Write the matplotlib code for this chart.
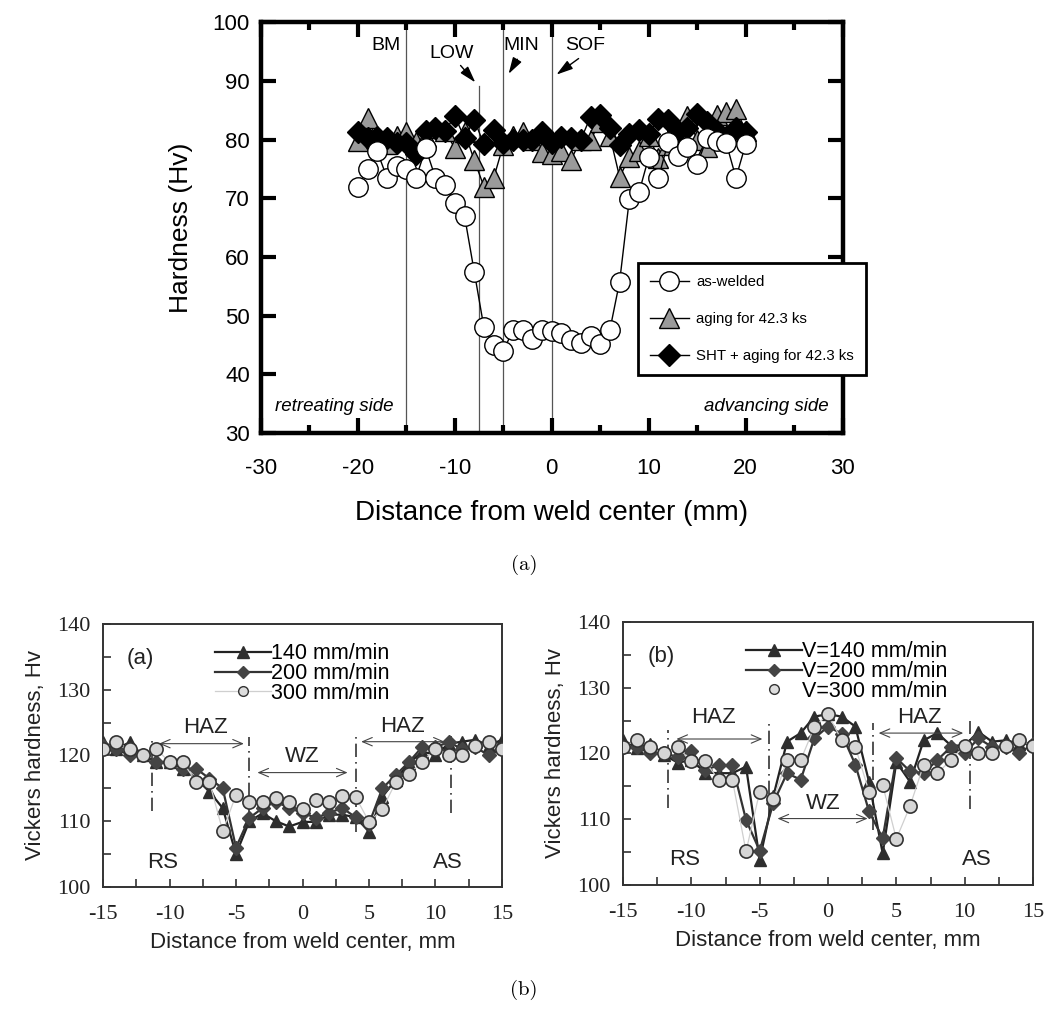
import matplotlib
matplotlib.use("Agg")
import matplotlib.pyplot as plt
from matplotlib.lines import Line2D
import numpy as np

plt.rcParams["axes.unicode_minus"] = False

# ---------------- data: top figure (a) ----------------
x_top = list(range(-20, 21))
as_welded = [72, 75, 78, 73.5, 75.5, 75, 73.5, 78.5, 73.5, 72.3, 69.2, 67, 57.5, 48, 45, 44,
             47.5, 47.5, 46, 47.5, 47.3, 47, 45.8, 45.4, 46.6, 45.1, 47.6, 55.8, 69.8, 71, 77,
             73.4, 79.6, 77.2, 78.8, 75.8, 80.2, 79.8, 79.4, 73.5, 79.2]
aging = [79.8, 83.7, 79.8, 79.3, 80.7, 81.3, 79.6, 80.5, 82, 81.5, 78.5, 81.3, 76.5, 72, 73.4,
         79.1, 80.7, 81.3, 79.9, 77.9, 77.5, 78, 76.6, 80, 80, 83, 80.6, 73.6, 77, 78, 80.6,
         76.8, 79, 80.5, 84, 80, 78.8, 84.2, 84.7, 85.3, 81.5]
sht_aging = [81.3, 80.2, 80.5, 80.2, 79.5, 79.5, 77.5, 81.5, 82, 81.5, 84, 80.3, 83.4, 79.2,
             81.6, 79.5, 80, 80, 80, 81.3, 79.4, 80.5, 80.2, 80, 83.9, 84.2, 82, 79, 81, 81.6,
             81, 83.6, 83.3, 81.5, 82, 84.4, 83, 81.5, 80.5, 81.9, 81.3]
top_labels = ["as-welded", "aging for 42.3 ks", "SHT + aging for 42.3 ks"]
zone_lines = [-15, -7.5, -5, 0]

# ---------------- data: bottom figures ----------------
x_bot = list(range(-15, 16))
a_140 = [122, 121, 122, 120, 119, 119, 118, 116.5, 114.5, 112, 105, 110, 111.2, 110, 109.2,
         109.9, 109.9, 111, 111, 110.6, 108.4, 113.7, 116.3, 118.8, 120.6, 120.1, 121.8,
         122.1, 122.4, 121.5, 122.4]
a_200 = [121.5, 121, 120, 120, 119, 119, 118, 118, 116.5, 115, 106, 110.5, 112, 113, 112,
         111.3, 110.5, 111.3, 112, 110.6, 109.6, 115, 117, 119, 121.3, 121.3, 122, 121,
         121.3, 120, 121]
a_300 = [121, 122, 121, 120, 121, 119, 119, 116, 116, 108.5, 114, 113, 113, 113.6, 113,
         111.8, 113.2, 113, 113.9, 113.7, 109.9, 111.8, 115.9, 117.2, 119, 121, 120, 120,
         121.5, 122, 121]
b_140 = [122.1, 120.8, 121.5, 119.8, 118.6, 119, 117.1, 117, 117, 118, 103.8, 113.5, 121.8,
         123.1, 125.6, 126, 125.6, 124.1, 115.7, 104.8, 118.7, 115.7, 122, 123.1, 121.2,
         121.2, 123.3, 121.8, 122, 121.5, 121.5]
b_200 = [121, 121, 120, 120, 119.5, 120.3, 117.5, 118.2, 118.2, 109.9, 105.2, 112.5, 117,
         116, 122.3, 124.1, 123, 118.3, 111.2, 107.1, 119.3, 117.3, 117, 119, 121, 120,
         122.3, 121, 121, 120, 121.5]
b_300 = [121, 122, 121, 120, 121, 118.8, 118.8, 116, 116, 105.1, 114.2, 113, 119, 119, 124,
         126, 122, 121, 114.2, 115.2, 107, 112, 118.3, 117, 119, 121.2, 120, 120, 121.2, 122,
         121.2]
a_labels = ["140 mm/min", "200 mm/min", "300 mm/min"]
b_labels = ["V=140 mm/min", "V=200 mm/min", "V=300 mm/min"]

SANS = ["Liberation Sans Narrow", "Liberation Sans", "DejaVu Sans"]
SANS2 = ["Liberation Sans", "DejaVu Sans"]
SERIF = ["Liberation Serif", "DejaVu Serif"]

fig = plt.figure(figsize=(10.48, 10.13), dpi=100)

# ================= top panel =================
ax = fig.add_axes([0.249, 0.5726, 0.555, 0.4054])
ax.set_xlim(-30, 30)
ax.set_ylim(30, 100)
for xv in zone_lines:
    top = 89.2 if xv == -7.5 else 100
    ax.plot([xv, xv], [30, top], color="#555555", lw=0.9, zorder=1)

ax.plot(x_top, aging, "-", color="black", lw=1.0, marker="^", ms=14, mfc="#9a9a9a",
        mec="black", mew=1.0, zorder=3)
ax.plot(x_top, sht_aging, "-", color="black", lw=1.0, marker="D", ms=11, mfc="black",
        mec="black", zorder=4)
ax.plot(x_top, as_welded, "-", color="black", lw=1.0, marker="o", ms=14, mfc="white",
        mec="black", mew=1.0, zorder=5)

ax.set_xticks([-30, -20, -10, 0, 10, 20, 30])
ax.set_xticks([-25, -15, -5, 5, 15, 25], minor=True)
ax.set_yticks(range(30, 101, 10))
ax.tick_params(which="both", direction="in", top=True, right=True, width=3)
ax.tick_params(which="major", length=11, labelsize=16)
ax.tick_params(which="minor", length=6)
ax.tick_params(axis="x", pad=18)
ax.tick_params(axis="y", pad=8)
for s in ax.spines.values():
    s.set_linewidth(3.2)
for lab in ax.get_xticklabels() + ax.get_yticklabels():
    lab.set_family(SANS)
ax.set_xlabel("Distance from weld center (mm)", fontsize=20, family=SANS, labelpad=15)
ax.set_ylabel("Hardness (Hv)", fontsize=19, family=SANS, labelpad=14)

ax.text(-17.1, 96.1, "BM", fontsize=14, family=SANS, ha="center", va="center")
ax.text(-10.3, 94.7, "LOW", fontsize=14, family=SANS, ha="center", va="center")
ax.text(-3.2, 96.1, "MIN", fontsize=14, family=SANS, ha="center", va="center")
ax.text(3.4, 96.1, "SOF", fontsize=14, family=SANS, ha="center", va="center")
arrow_kw = dict(arrowstyle="-|>,head_length=1.0,head_width=0.3", color="black", lw=1.0)
ax.annotate("", xy=(-7.7, 89.4), xytext=(-9.6, 93.0), arrowprops=arrow_kw)
ax.annotate("", xy=(-4.6, 90.8), xytext=(-3.4, 94.1), arrowprops=arrow_kw)
ax.annotate("", xy=(0.25, 90.8), xytext=(3.0, 94.1), arrowprops=arrow_kw)
ax.text(-28.6, 34.5, "retreating side", fontsize=13.5, style="italic", family=SANS,
        ha="left", va="center")
ax.text(28.6, 34.5, "advancing side", fontsize=13.5, style="italic", family=SANS,
        ha="right", va="center")

h_top = [Line2D([], [], color="black", lw=1.0, marker="o", ms=14, mfc="white", mec="black"),
         Line2D([], [], color="black", lw=1.0, marker="^", ms=14, mfc="#9a9a9a", mec="black"),
         Line2D([], [], color="black", lw=1.0, marker="D", ms=11, mfc="black", mec="black")]
leg = ax.legend(h_top, top_labels, loc="upper left", bbox_to_anchor=(0.648, 0.414),
                borderaxespad=0, fancybox=False, framealpha=1, edgecolor="black",
                prop={"family": SANS, "size": 10.8}, handlelength=2.6, labelspacing=1.55,
                borderpad=0.8, handletextpad=0.5)
leg.get_frame().set_linewidth(2.0)

fig.text(0.5, 1 - 565 / 1013, "(a)", fontsize=15, family="cmr10", ha="center", va="center")
fig.text(0.5, 1 - 990 / 1013, "(b)", fontsize=15, family="cmr10", ha="center", va="center")


# ================= bottom panels =================
def bottom_panel(rect, s140, s200, s300, ann, tag, y300_legend_line):
    b = fig.add_axes(rect)
    b.set_xlim(-15, 15)
    b.set_ylim(100, 140)
    b.plot(x_bot, s140, "-", color="#222222", lw=1.6, marker="^", ms=9,
           mfc="#2e2e2e", mec="#2e2e2e", zorder=3)
    b.plot(x_bot, s200, "-", color="#333333", lw=1.6, marker="D", ms=7,
           mfc="#444444", mec="#444444", zorder=4)
    b.plot(x_bot, s300, "-", color="#cfcfcf", lw=0.9, marker="o", ms=9.5,
           mfc="#d6d6d6", mec="#333333", mew=1.2, zorder=5)
    b.set_xticks(np.arange(-15, 15.1, 5))
    b.set_xticks(np.arange(-12.5, 15, 5), minor=True)
    b.set_yticks(np.arange(100, 141, 10))
    b.set_yticks(np.arange(105, 140, 10), minor=True)
    b.tick_params(which="both", direction="in", length=6, width=1.2, color="#333333")
    b.tick_params(which="major", labelsize=16)
    b.tick_params(axis="x", pad=13)
    b.tick_params(axis="y", pad=9)
    for s in b.spines.values():
        s.set_linewidth(1.4)
        s.set_color("#333333")
    for lab in b.get_xticklabels() + b.get_yticklabels():
        lab.set_family(SERIF)
        lab.set_color("#222222")
    b.set_xlabel("Distance from weld center, mm", fontsize=16, family=SANS2,
                 color="#222222", labelpad=6)
    b.set_ylabel("Vickers hardness, Hv", fontsize=16, family=SANS2, color="#222222",
                 labelpad=8)
    dl, hl, hr, wz = ann
    for xv, y0, y1 in dl:
        b.plot([xv, xv], [y0, y1], color="#333333", lw=1.2, ls=(0, (8, 3, 1, 3)), zorder=2)
    akw = dict(arrowstyle="<->,head_length=0.7,head_width=0.3", color="#444444", lw=0.8)
    for (xa, xb, ya, xt, yt, txt) in (hl, hr, wz):
        b.annotate("", xy=(xa, ya), xytext=(xb, ya), arrowprops=akw)
        b.text(xt, yt, txt, fontsize=16, family=SANS2, ha="center", va="center",
               color="#222222")
    b.text(-10.5, 103.8, "RS", fontsize=16, family=SANS2, ha="center", va="center",
           color="#222222")
    b.text(10.9, 103.8, "AS", fontsize=16, family=SANS2, ha="center", va="center",
           color="#222222")
    b.text(-12.2, 134.7, tag, fontsize=16, family=SANS2, ha="center", va="center",
           color="#222222")
    h3 = Line2D([], [], color="#cfcfcf" if y300_legend_line else "none", lw=0.9,
                marker="o", ms=7, mfc="#dddddd", mec="#333333")
    h1 = Line2D([], [], color="#222222", lw=1.6, marker="^", ms=8, mfc="#2e2e2e",
                mec="#2e2e2e")
    h2 = Line2D([], [], color="#333333", lw=1.6, marker="D", ms=6.5, mfc="#444444",
                mec="#444444")
    return b, [h1, h2, h3]


ann_a = ([(-11.3, 111.5, 122.8), (-4.0, 110.0, 122.8), (4.0, 108.3, 123.0),
          (11.2, 111.2, 123.0)],
         (-11.0, -4.2, 121.8, -7.3, 124.2, "HAZ"),
         (4.2, 10.9, 122.1, 7.5, 124.4, "HAZ"),
         (-3.6, 3.6, 117.4, 0.0, 119.8, "WZ"))
ba, ha = bottom_panel([0.0983, 0.1244, 0.3807, 0.2596], a_140, a_200, a_300,
                      ann_a, "(a)", True)
ba.legend(ha, a_labels, loc="upper left", bbox_to_anchor=(0.26, 0.96), frameon=False,
          prop={"family": SANS2, "size": 15.5}, handlelength=2.6, handletextpad=0.0,
          labelspacing=-0.05, borderaxespad=0)

ann_b = ([(-11.7, 111.7, 123.5), (-4.3, 110.0, 124.7), (3.3, 108.4, 124.7),
          (10.4, 111.6, 124.9)],
         (-11.3, -4.6, 122.2, -8.4, 125.4, "HAZ"),
         (3.5, 10.1, 123.1, 6.7, 125.4, "HAZ"),
         (-3.9, 3.1, 110.1, -0.35, 112.4, "WZ"))
bb, hb = bottom_panel([0.5945, 0.1264, 0.3912, 0.2596], b_140, b_200, b_300,
                      ann_b, "(b)", False)
bb.legend(hb, b_labels, loc="upper left", bbox_to_anchor=(0.28, 0.96), frameon=False,
          prop={"family": SANS2, "size": 15.5}, handlelength=2.6, handletextpad=0.0,
          labelspacing=-0.05, borderaxespad=0)

fig.savefig("out.png", dpi=100)
